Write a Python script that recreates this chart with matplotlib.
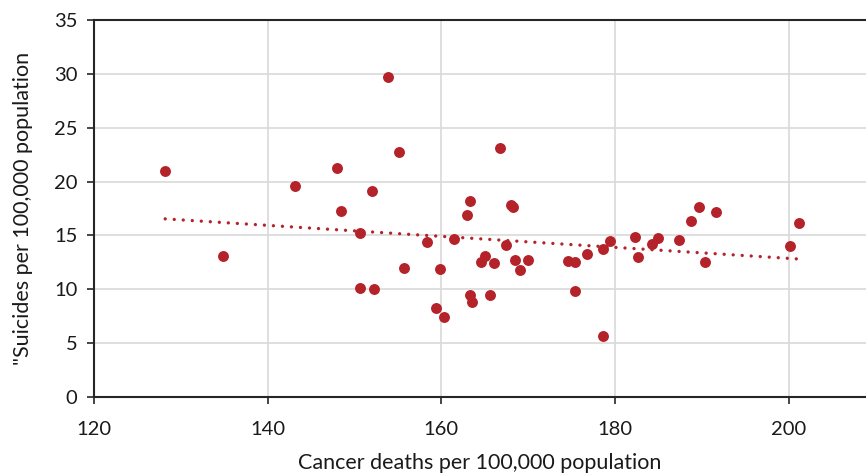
import matplotlib
matplotlib.use("Agg")
import matplotlib.pyplot as plt
import numpy as np

# cancer deaths vs suicides, per 100,000 population
cancer = [128.2, 134.9, 143.2, 148.0, 148.4, 150.6, 150.6, 152.0, 152.2, 153.9,
          155.1, 155.7, 158.4, 159.4, 159.9, 160.3, 161.5, 163.0, 163.3, 163.3,
          163.5, 164.6, 165.0, 165.6, 166.1, 166.8, 167.5, 168.0, 168.2, 168.5,
          169.0, 170.0, 174.6, 175.4, 175.4, 176.8, 178.6, 178.6, 179.4, 182.3,
          182.6, 184.2, 184.9, 187.4, 188.8, 189.7, 190.4, 191.6, 200.2, 201.2]
suicides = [21.0, 13.1, 19.6, 21.3, 17.3, 15.2, 10.1, 19.1, 10.0, 29.7,
            22.7, 12.0, 14.4, 8.3, 11.9, 7.4, 14.7, 16.9, 18.2, 9.5,
            8.8, 12.5, 13.1, 9.5, 12.4, 23.1, 14.1, 17.8, 17.6, 12.7,
            11.8, 12.7, 12.6, 12.5, 9.8, 13.3, 13.7, 5.7, 14.5, 14.9,
            13.0, 14.2, 14.8, 14.6, 16.3, 17.6, 12.5, 17.2, 14.0, 16.2]

red = "#B5232A"

plt.rcParams['font.family'] = ['Lato', 'DejaVu Sans']

fig = plt.figure(figsize=(8.66, 4.75), dpi=100)
ax = fig.add_axes([94 / 866, 1 - 397 / 475, 1 - 94 / 866, (397 - 20) / 475])

ax.scatter(cancer, suicides, s=62, color=red, zorder=3, linewidths=0)

# linear trendline
k, b = np.polyfit(cancer, suicides, 1)
xs = np.array([min(cancer), max(cancer)])
ax.plot(xs, k * xs + b, linestyle=(0, (0.01, 2.7)), color=red, linewidth=2.4,
        dash_capstyle='round', zorder=2)

ax.set_xlim(120, 208.9)
ax.set_ylim(0, 35)
ax.set_xticks([120, 140, 160, 180, 200])
ax.set_yticks(range(0, 36, 5))
ax.grid(True, color="#D9D9D9", linewidth=1.2, zorder=0)
ax.set_axisbelow(True)

for side in ['left', 'bottom', 'top']:
    ax.spines[side].set_color("#262626")
    ax.spines[side].set_linewidth(1.5)
ax.spines['right'].set_visible(False)

ax.tick_params(axis='both', direction='out', length=5, width=1.2,
               color="#262626", labelsize=14.5, labelcolor="#1a1a1a")
ax.tick_params(axis='x', pad=12)
ax.tick_params(axis='y', pad=7)

ax.set_xlabel("Cancer deaths per 100,000 population", fontsize=15.5, color="#1a1a1a",
              labelpad=11)
ax.set_ylabel('"Suicides per 100,000 population', fontsize=15.5, color="#1a1a1a",
              labelpad=15)

fig.savefig("out.png", dpi=100)
